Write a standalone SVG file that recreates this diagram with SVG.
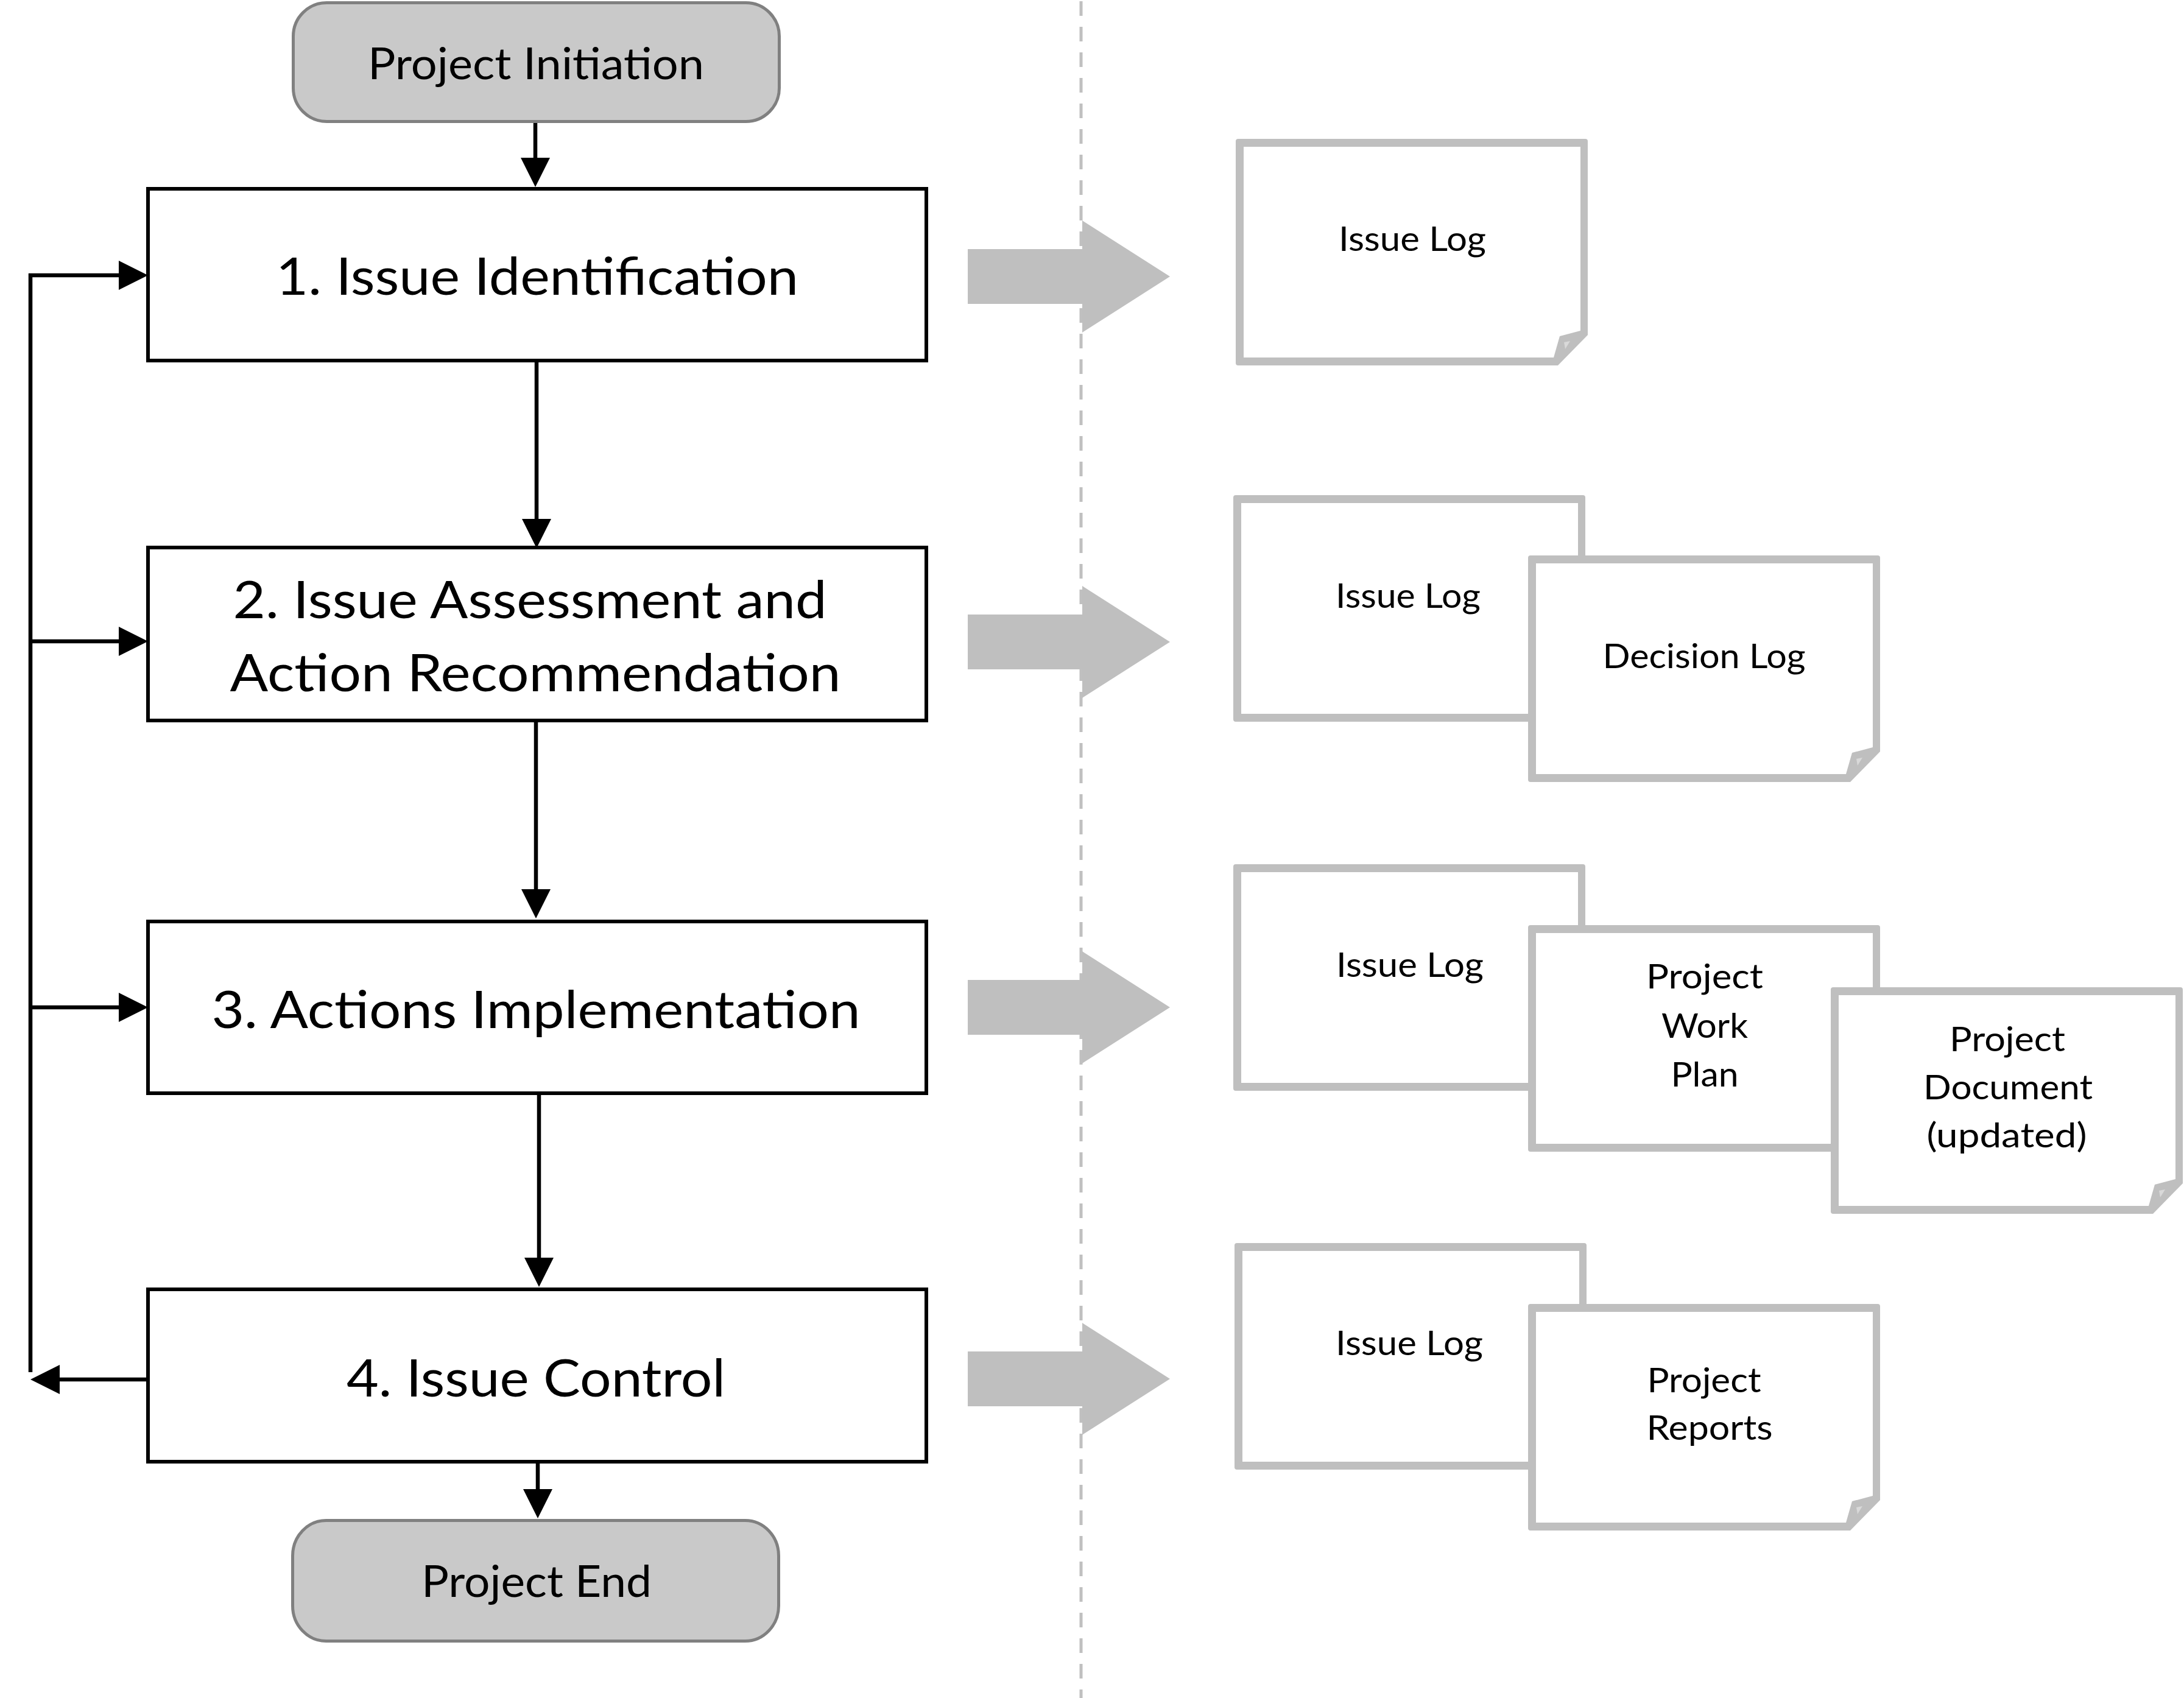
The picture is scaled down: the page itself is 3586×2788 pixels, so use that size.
<svg xmlns="http://www.w3.org/2000/svg" xmlns:xlink="http://www.w3.org/1999/xlink" width="3586" height="2788" viewBox="0 0 3586 2788">
<defs>
<style>
.txt{font-family:Lato,"Liberation Sans",Arial,sans-serif;fill:#000;text-anchor:middle}
.big{font-size:86px}
.term{font-size:72px}
.doc{font-size:56px}
.proc{fill:#fff;stroke:#000;stroke-width:6}
.terminal{fill:#c9c9c9;stroke:#808080;stroke-width:5}
.conn{fill:none;stroke:#000;stroke-width:6.5}
.blk{fill:#bfbfbf}
</style>
<marker id="ah" viewBox="0 0 48 48" refX="2" refY="24" markerWidth="48" markerHeight="48" markerUnits="userSpaceOnUse" orient="auto">
<path d="M0,0 L48,24 L0,48 Z" fill="#000"/>
</marker>
<g id="docShape">
<path fill="#bfbfbf" d="M0,4 Q0,0 4,0 H574 Q578,0 578,4 V322 L529,372 H4 Q0,372 0,368 Z"/>
<path fill="#fff" d="M13,13 H566 V315 L532,324 L522,359 H13 Z"/>
<path fill="#d9d9d9" d="M539,334 L549,332 L541,345 Z"/>
</g>
<path id="blockArrow" d="M1589,-45 H1777 V-92 L1921,0 L1777,92 V45 H1589 Z"/>
</defs>
<rect width="3586" height="2788" fill="#fff"/>

<line x1="1775" y1="2" x2="1775" y2="2788" stroke="#c0c0c0" stroke-width="5" stroke-dasharray="24 18"/>

<g id="connectors">
<line class="conn" x1="879" y1="202" x2="879" y2="261" marker-end="url(#ah)"/>
<line class="conn" x1="881" y1="593" x2="881" y2="854" marker-end="url(#ah)"/>
<line class="conn" x1="880" y1="1183" x2="880" y2="1462" marker-end="url(#ah)"/>
<line class="conn" x1="885" y1="1795" x2="885" y2="2067" marker-end="url(#ah)"/>
<line class="conn" x1="883" y1="2400" x2="883" y2="2447" marker-end="url(#ah)"/>
<line class="conn" x1="243" y1="2265" x2="96" y2="2265" marker-end="url(#ah)"/>
<line class="conn" x1="50" y1="2253" x2="50" y2="449"/>
<line class="conn" x1="47" y1="452" x2="197" y2="452" marker-end="url(#ah)"/>
<line class="conn" x1="47" y1="1053" x2="197" y2="1053" marker-end="url(#ah)"/>
<line class="conn" x1="47" y1="1654" x2="197" y2="1654" marker-end="url(#ah)"/>
</g>

<g id="output-arrows">
<use xlink:href="#blockArrow" class="blk" transform="translate(0,454)"/>
<use xlink:href="#blockArrow" class="blk" transform="translate(0,1054)"/>
<use xlink:href="#blockArrow" class="blk" transform="translate(0,1654)"/>
<use xlink:href="#blockArrow" class="blk" transform="translate(0,2264)"/>
</g>

<g id="project-initiation">
<rect class="terminal" x="481.5" y="4.5" width="798" height="195" rx="55" ry="55"/>
<text class="txt term" x="880" y="130" textLength="552" lengthAdjust="spacingAndGlyphs">Project Initiation</text>
</g>

<g id="step-1">
<rect class="proc" x="243" y="310" width="1278" height="282"/>
<text class="txt big" x="882" y="484" textLength="858" lengthAdjust="spacingAndGlyphs">1. Issue Identification</text>
</g>

<g id="step-2">
<rect class="proc" x="243" y="899" width="1278" height="284"/>
<text class="txt big" x="870" y="1015" textLength="975" lengthAdjust="spacingAndGlyphs">2. Issue Assessment and</text>
<text class="txt big" x="879" y="1135" textLength="1003" lengthAdjust="spacingAndGlyphs">Action Recommendation</text>
</g>

<g id="step-3">
<rect class="proc" x="243" y="1513" width="1278" height="282"/>
<text class="txt big" x="880" y="1688" textLength="1065" lengthAdjust="spacingAndGlyphs">3. Actions Implementation</text>
</g>

<g id="step-4">
<rect class="proc" x="243" y="2117" width="1278" height="283"/>
<text class="txt big" x="880" y="2293" textLength="622" lengthAdjust="spacingAndGlyphs">4. Issue Control</text>
</g>

<g id="project-end">
<rect class="terminal" x="480.5" y="2496.5" width="798" height="198" rx="55" ry="58"/>
<text class="txt term" x="881" y="2622" textLength="378" lengthAdjust="spacingAndGlyphs">Project End</text>
</g>

<g id="doc-1-issue-log">
<use xlink:href="#docShape" x="2029" y="228"/>
<text class="txt doc" x="2319" y="412" textLength="242" lengthAdjust="spacingAndGlyphs">Issue Log</text>
</g>

<g id="doc-2-issue-log">
<use xlink:href="#docShape" x="2025" y="813"/>
<text class="txt doc" x="2312" y="998" textLength="238" lengthAdjust="spacingAndGlyphs">Issue Log</text>
</g>
<g id="doc-2-decision-log">
<use xlink:href="#docShape" x="2509" y="912"/>
<text class="txt doc" x="2798" y="1097" textLength="333" lengthAdjust="spacingAndGlyphs">Decision Log</text>
</g>

<g id="doc-3-issue-log">
<use xlink:href="#docShape" x="2025" y="1419"/>
<text class="txt doc" x="2315" y="1604" textLength="242" lengthAdjust="spacingAndGlyphs">Issue Log</text>
</g>
<g id="doc-3-work-plan">
<use xlink:href="#docShape" x="2509" y="1519"/>
<text class="txt doc" x="2799" y="1623" textLength="192" lengthAdjust="spacingAndGlyphs">Project</text>
<text class="txt doc" x="2799" y="1704" textLength="142" lengthAdjust="spacingAndGlyphs">Work</text>
<text class="txt doc" x="2799" y="1784" textLength="111" lengthAdjust="spacingAndGlyphs">Plan</text>
</g>
<g id="doc-3-project-document">
<use xlink:href="#docShape" x="3006" y="1621"/>
<text class="txt doc" x="3296" y="1726" textLength="190" lengthAdjust="spacingAndGlyphs">Project</text>
<text class="txt doc" x="3297" y="1805" textLength="278" lengthAdjust="spacingAndGlyphs">Document</text>
<text class="txt doc" x="3295" y="1884" textLength="263" lengthAdjust="spacingAndGlyphs">(updated)</text>
</g>

<g id="doc-4-issue-log">
<use xlink:href="#docShape" x="2027" y="2041"/>
<text class="txt doc" x="2314" y="2225" textLength="242" lengthAdjust="spacingAndGlyphs">Issue Log</text>
</g>
<g id="doc-4-project-reports">
<use xlink:href="#docShape" x="2509" y="2141"/>
<text class="txt doc" x="2798" y="2286" textLength="187" lengthAdjust="spacingAndGlyphs">Project</text>
<text class="txt doc" x="2807" y="2364" textLength="207" lengthAdjust="spacingAndGlyphs">Reports</text>
</g>
</svg>
